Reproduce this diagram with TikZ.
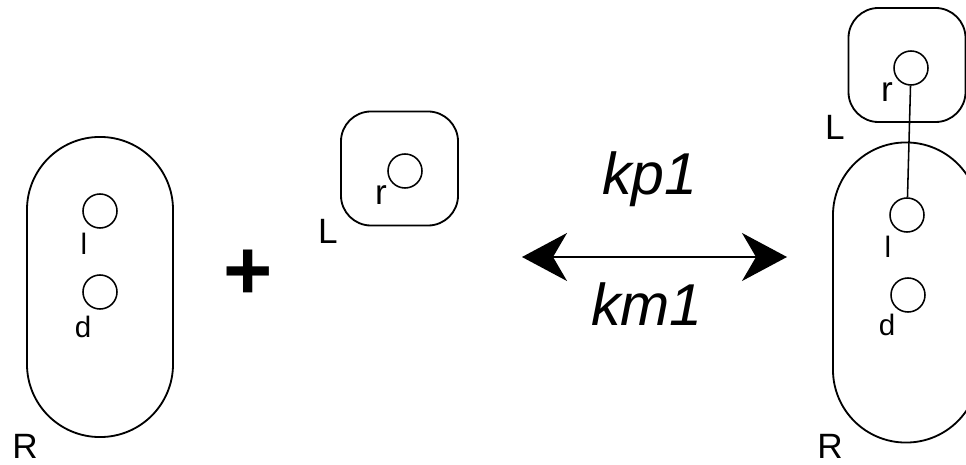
\documentclass[tikz,border=0pt]{standalone}
\usepackage{fontspec}
\setmainfont{Liberation Sans}
\usetikzlibrary{arrows.meta, positioning}

\begin{document}
\begin{tikzpicture}[x=0.025cm, y=-0.025cm,
	pill/.style={draw, line width=1.3pt, minimum width=3.65cm, minimum height=7.5cm,
		rounded corners=1.82cm, inner sep=0},
	ligbox/.style={draw, line width=1.3pt, minimum width=2.925cm, minimum height=2.85cm,
		rounded corners=0.75cm, inner sep=0},
	site/.style={draw, circle, line width=1.1pt, minimum size=0.85cm, inner sep=0},
	sitelbl/.style={anchor=base, inner sep=0, font=\fontsize{21}{21}\selectfont},
	mollbl/.style={anchor=base, inner sep=0, font=\fontsize{25}{25}\selectfont},
	ratelbl/.style={anchor=base, inner sep=0, font=\itshape\fontsize{42}{42}\selectfont}]
			\useasboundingbox (0,0) rectangle (966,465);
			\clip (0,0) rectangle (966,465);

			% Receptor libre
			\node[pill] (recA) at (100,287) {};
			\node[site] (lA) at (100,211) {};
			\node[site] (dA) at (100,292) {};
			\node[sitelbl] (lAlbl) at (84,255) {l};
			\node[sitelbl] (dAlbl) at (83,337) {d};
			\node[mollbl] (recAlbl) at (25,458) {R};

			\node[inner sep=0, font=\bfseries\fontsize{60}{60}\selectfont] (plus) at (248,275) {+};

			% Ligando libre
			\node[ligbox] (ligA) at (399.5,168.5) {};
			\node[site] (rA) at (405,171) {};
			\node[sitelbl, font=\fontsize{25}{25}\selectfont] (rAlbl) at (381,205) {r};
			\node[mollbl] (ligAlbl) at (328,244) {L};

			% Reaccion reversible
			\coordinate (fwdL) at (522,257);
			\coordinate (fwdR) at (787,257);
			\draw[line width=1.1pt, {Stealth[length=1.125cm, width=1.2cm, inset=0.35cm]}-{Stealth[length=1.125cm, width=1.2cm, inset=0.35cm]}] (fwdL) -- (fwdR);
			\node[ratelbl] (kp) at (650,195) {kp1};
			\node[ratelbl] (km) at (647,325) {km1};

			% Complejo
			\node[ligbox] (ligB) at (907,65) {};
			\node[site] (rB) at (911,68) {};
			\node[sitelbl, font=\fontsize{25}{25}\selectfont] (rBlbl) at (887,102) {r};
			\node[mollbl] (ligBlbl) at (835,140) {L};
			\node[pill] (recB) at (906,292.5) {};
			\node[site] (lB) at (907,215) {};
			\node[site] (dB) at (908,295) {};
			\node[sitelbl] (lBlbl) at (888,258) {l};
			\node[sitelbl] (dBlbl) at (887,335) {d};
			\node[mollbl] (recBlbl) at (830,458) {R};
			\draw[line width=1.1pt] (rB) -- (lB);
		\end{tikzpicture}
\end{document}
